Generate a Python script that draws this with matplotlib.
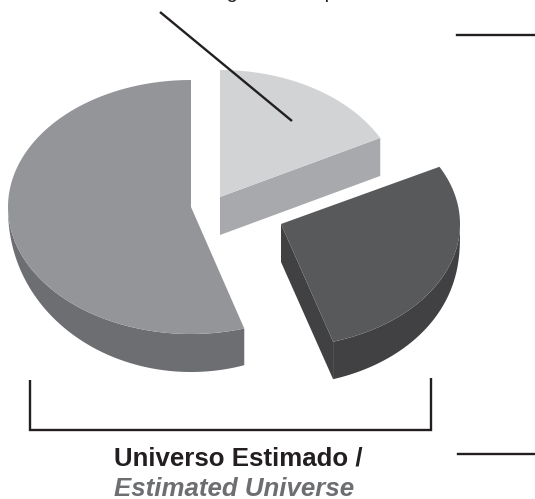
import numpy as np
import matplotlib
matplotlib.use("Agg")
import matplotlib.pyplot as plt
from matplotlib.patches import Polygon

# --- data ---
slice_names = ["Universo restante", "Amostra", "Outros"]
slice_shares = [54.7, 17.3, 28.0]
title_pt = "Universo Estimado /"
title_en = "Estimated Universe"
top_label = "Amostragem / Sample"

# --- layout ---
W, H = 535, 499
START = 90.0
APEX = [(191, 207), (220, 197), (281, 224)]
RX = [183, 181, 179]
RY = [127, 127, 123]
DEPTH = 38
WALL_EXP = [0.8, 0.8, 0.3]
TOP_COL = ["#939598", "#d1d3d4", "#58595b"]
SIDE_COL = ["#6d6e71", "#a7a9ac", "#414042"]
INK = "#231f20"

fig = plt.figure(figsize=(W / 100, H / 100), dpi=100)
ax = fig.add_axes([0, 0, 1, 1])
ax.set_xlim(0, W)
ax.set_ylim(H, 0)
ax.axis("off")

total = sum(slice_shares)
sweeps = [s / total * 360 for s in slice_shares]
# first slice runs anticlockwise from the top, the others clockwise
ranges = [
    (START, START + sweeps[0]),
    (START, START - sweeps[1]),
    (START - sweeps[1], START - sweeps[1] - sweeps[2]),
]

for i, (a0, a1) in enumerate(ranges):
    t = np.radians(np.linspace(a0, a1, 300))
    cx, cy = APEX[i]
    x = cx + RX[i] * np.cos(t)
    y = cy - RY[i] * np.sin(t)
    # wall height grows towards the viewer
    s = np.clip(-np.sin(t), 0, 1)
    d = DEPTH * s ** WALL_EXP[i]
    front = s > 0
    if front.any():
        xw, yw, dw = x[front], y[front], d[front]
        ax.add_patch(Polygon(np.r_[np.c_[xw, yw], np.c_[xw, yw + dw][::-1]],
                             fc=SIDE_COL[i], ec="none", zorder=2))
    if i > 0:
        # radial cut wall facing the viewer
        de = DEPTH if i == 1 else max(d[-1], 1)
        ax.add_patch(Polygon([(cx, cy), (x[-1], y[-1]), (x[-1], y[-1] + de), (cx, cy + DEPTH)],
                             fc=SIDE_COL[i], ec="none", zorder=2))
    ax.add_patch(Polygon(np.r_[[(cx, cy)], np.c_[x, y]], fc=TOP_COL[i], ec="none", zorder=3))

ax.plot([160, 292], [12, 121], color=INK, lw=1.7, zorder=5, solid_capstyle="butt")
ax.plot([30, 30, 431, 431], [380, 430, 430, 378], color=INK, lw=1.7, zorder=5,
        solid_joinstyle="miter", solid_capstyle="butt")
ax.plot([457, W], [35, 35], color=INK, lw=1.7, zorder=5)
ax.plot([458, W], [454, 454], color=INK, lw=1.7, zorder=5)

ax.text(114, 465, title_pt, fontsize=18.6, fontweight="bold", color=INK,
        family="Liberation Sans", va="baseline", ha="left")
ax.text(114, 496, title_en, fontsize=18.6, fontweight="bold", style="italic", color="#6d6e71",
        family="Liberation Sans", va="baseline", ha="left")
ax.text(151, -2, top_label, fontsize=14.6, color=INK, family="Liberation Sans",
        va="baseline", ha="left", clip_on=False)

fig.savefig("out.png", dpi=100)
